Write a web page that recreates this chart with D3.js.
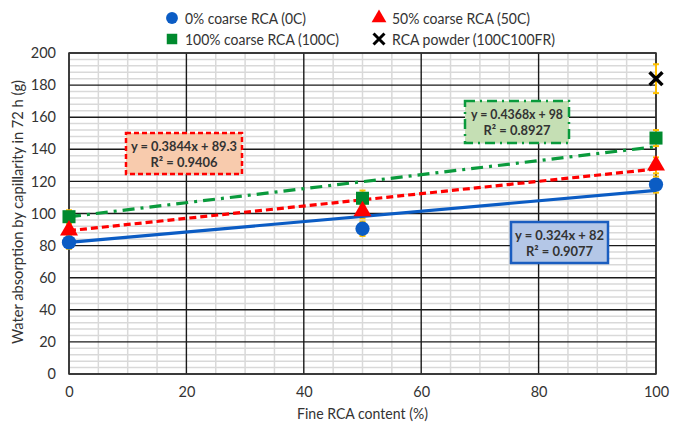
<!DOCTYPE html>
<html><head><meta charset="utf-8">
<script src="https://cdn.jsdelivr.net/npm/d3@7"></script>
<style>body{margin:0;background:#fff}svg{display:block}text{font-family:Lato,"Open Sans",sans-serif}</style>
</head><body><svg id="c" width="683" height="426"></svg>
<script>
const fineContent = [0, 50, 100];
const coarse0 = [82, 90.5, 118];
const coarse50 = [89.5, 101.5, 130];
const coarse100 = [98, 109.5, 147];
const powderX = [100];
const powder = [184];
const err0 = [4, 4.5, 5];
const err50 = [4, 4.5, 5];
const err100 = [4, 4.8, 5];
const errPowder = [9];
const xTicks = [0, 20, 40, 60, 80, 100];
const yTicks = [0, 20, 40, 60, 80, 100, 120, 140, 160, 180, 200];
const trends = [
  {name: "0C", slope: 0.324, intercept: 82, eq: "y = 0.324x + 82", r2: "R² = 0.9077"},
  {name: "50C", slope: 0.3844, intercept: 89.3, eq: "y = 0.3844x + 89.3", r2: "R² = 0.9406"},
  {name: "100C", slope: 0.4368, intercept: 98, eq: "y = 0.4368x + 98", r2: "R² = 0.8927"}
];
const legendLabels = ["0% coarse RCA (0C)", "50% coarse RCA (50C)", "100% coarse RCA (100C)", "RCA powder (100C100FR)"];

const svg = d3.select("#c");
const L = 69, R = 656, T = 53, B = 374;
const x = d3.scaleLinear().domain([0, 100]).range([L, R]);
const y = d3.scaleLinear().domain([0, 200]).range([B, T]);

const blue = "#0B5CC4", red = "#FF0000", green = "#0A9A3C", gold = "#FFC000";

// minor grid
const g = svg.append("g");
g.selectAll(".mx").data(d3.range(0, 101, 5).filter(v => v % 20)).join("line")
  .attr("x1", d => x(d)).attr("x2", d => x(d)).attr("y1", T).attr("y2", B)
  .attr("stroke", "#d9d9d9").attr("stroke-width", 1.5);
g.selectAll(".my").data(d3.range(0, 201, 4).filter(v => v % 20)).join("line")
  .attr("x1", L).attr("x2", R).attr("y1", d => y(d)).attr("y2", d => y(d))
  .attr("stroke", "#d9d9d9").attr("stroke-width", 1.5);
// major grid
g.selectAll(".Mx").data(xTicks).join("line")
  .attr("x1", d => x(d)).attr("x2", d => x(d)).attr("y1", T).attr("y2", B)
  .attr("stroke", "#1a1a1a").attr("stroke-width", 1.4);
g.selectAll(".My").data(yTicks).join("line")
  .attr("x1", L).attr("x2", R).attr("y1", d => y(d)).attr("y2", d => y(d))
  .attr("stroke", "#1a1a1a").attr("stroke-width", 1.4);
g.append("rect").attr("x", L).attr("y", T).attr("width", R - L).attr("height", B - T)
  .attr("fill", "none").attr("stroke", "#333").attr("stroke-width", 1.5);

// axes
const xAxis = svg.append("g").attr("transform", `translate(0,${B})`)
  .call(d3.axisBottom(x).tickValues(xTicks).tickSize(0).tickPadding(13));
const yAxis = svg.append("g").attr("transform", `translate(${L},0)`)
  .call(d3.axisLeft(y).tickValues(yTicks).tickSize(0).tickPadding(13));
[xAxis, yAxis].forEach(a => {
  a.select(".domain").remove();
  a.selectAll("text").attr("font-size", 14.5).attr("fill", "#333").attr("font-family", "Lato, sans-serif");
});
svg.append("text").attr("x", (L + R) / 2).attr("y", 419).attr("text-anchor", "middle")
  .attr("font-size", 14.5).attr("fill", "#333")
  .attr("textLength", 131).attr("lengthAdjust", "spacingAndGlyphs").text("Fine RCA content (%)");
svg.append("text").attr("transform", `translate(23,212) rotate(-90)`).attr("text-anchor", "middle")
  .attr("font-size", 14.5).attr("fill", "#333")
  .attr("textLength", 264).attr("lengthAdjust", "spacingAndGlyphs").text("Water absorption by capillarity in 72 h (g)");

// error bars
function errBars(xs, ys, es) {
  const eg = svg.append("g");
  xs.forEach((xv, i) => {
    const cx = x(xv), y1 = y(ys[i] + es[i]), y2 = y(ys[i] - es[i]);
    eg.append("line").attr("x1", cx).attr("x2", cx).attr("y1", y1).attr("y2", y2).attr("stroke", gold).attr("stroke-width", 2);
    [y1, y2].forEach(yy => eg.append("line").attr("x1", cx - 3).attr("x2", cx + 3).attr("y1", yy).attr("y2", yy).attr("stroke", gold).attr("stroke-width", 2));
  });
}
errBars(fineContent, coarse0, err0);
errBars(fineContent, coarse50, err50);
errBars(fineContent, coarse100, err100);
errBars(powderX, powder, errPowder);

// trend lines
const styles = {"0C": {c: blue, d: null}, "50C": {c: red, d: "7,4"}, "100C": {c: green, d: "12,6,3,6"}};
trends.forEach(t => {
  svg.append("line").attr("x1", x(0)).attr("x2", x(100))
    .attr("y1", y(t.intercept)).attr("y2", y(t.intercept + t.slope * 100))
    .attr("stroke", styles[t.name].c).attr("stroke-width", 3.2)
    .attr("stroke-dasharray", styles[t.name].d);
});

// markers
const sym = (type, size) => d3.symbol().type(type).size(size)();
function markers(xs, ys, type, size, color) {
  svg.append("g").selectAll("path").data(xs).join("path")
    .attr("transform", (d, i) => `translate(${x(d)},${y(ys[i])})`)
    .attr("d", sym(type, size)).attr("fill", color);
}
markers(fineContent, coarse100, d3.symbolSquare, 170, "#008A2E");
markers(fineContent, coarse50, d3.symbolTriangle, 140, red);
markers(fineContent, coarse0, d3.symbolCircle, 160, blue);
svg.append("g").selectAll("path").data(powderX).join("path")
  .attr("transform", (d, i) => `translate(${x(d)},${y(powder[i])})`)
  .attr("d", d3.symbol().type(d3.symbolTimes).size(110)()).attr("fill", "none")
  .attr("stroke", "#000").attr("stroke-width", 3.5);

// equation boxes
const boxes = [
  {t: trends[1], x: 126, y: 133, w: 116, h: 41, fill: "#F8CBAD", stroke: red, dash: "5,3", l1: 106, l2: 67},
  {t: trends[2], x: 465, y: 101, w: 104, h: 42, fill: "#C5DFB4", stroke: green, dash: "10,5,2,5", l1: 92, l2: 67},
  {t: trends[0], x: 511, y: 222, w: 97, h: 41, fill: "#B4C7E7", stroke: "#1A5DC0", dash: null, l1: 89, l2: 67}
];
boxes.forEach(b => {
  svg.append("rect").attr("x", b.x).attr("y", b.y).attr("width", b.w).attr("height", b.h)
    .attr("fill", b.fill).attr("stroke", b.stroke).attr("stroke-width", 2.5).attr("stroke-dasharray", b.dash);
  svg.append("text").attr("x", b.x + b.w / 2).attr("y", b.y + 17.5).attr("text-anchor", "middle")
    .attr("font-size", 14).attr("font-weight", "bold").attr("fill", "#333")
    .attr("textLength", b.l1).attr("lengthAdjust", "spacingAndGlyphs").text(b.t.eq);
  svg.append("text").attr("x", b.x + b.w / 2).attr("y", b.y + 34).attr("text-anchor", "middle")
    .attr("font-size", 14).attr("font-weight", "bold").attr("fill", "#333")
    .attr("textLength", b.l2).attr("lengthAdjust", "spacingAndGlyphs").text(b.t.r2);
});

// legend
const leg = [
  {x: 172, y: 18, type: d3.symbolCircle, size: 110, c: blue, w: 121},
  {x: 379, y: 18, type: d3.symbolTriangle, size: 95, c: red, w: 138},
  {x: 172, y: 39, type: d3.symbolSquare, size: 110, c: "#008A2E", w: 154},
  {x: 379, y: 39, type: d3.symbolTimes, size: 80, c: "#000", w: 163}
];
leg.forEach((l, i) => {
  const p = svg.append("path").attr("transform", `translate(${l.x},${l.y})`).attr("d", d3.symbol().type(l.type).size(l.size)());
  if (l.type === d3.symbolTimes) p.attr("fill", "none").attr("stroke", l.c).attr("stroke-width", 3);
  else p.attr("fill", l.c);
  svg.append("text").attr("x", l.x + 13).attr("y", l.y + 5.5).attr("font-size", 15.5).attr("fill", "#333")
    .attr("textLength", l.w).attr("lengthAdjust", "spacingAndGlyphs").text(legendLabels[i]);
});
</script></body></html>
